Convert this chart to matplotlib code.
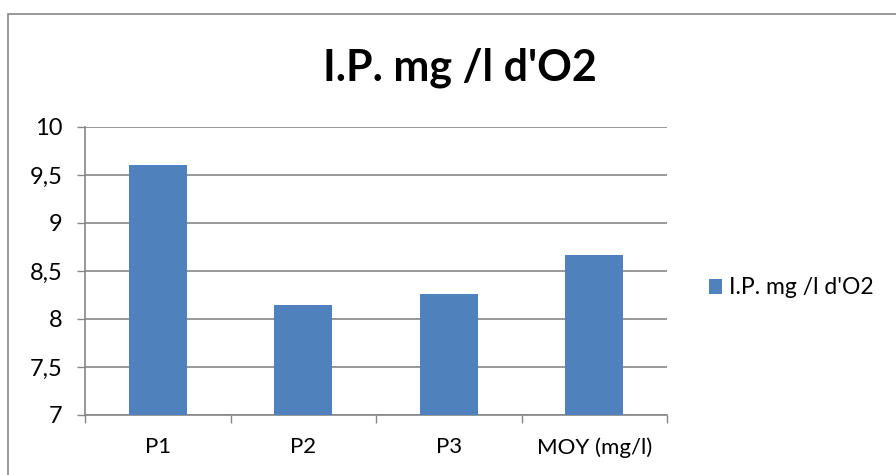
import matplotlib.pyplot as plt
from matplotlib.patches import Rectangle
import numpy as np

categories = ['P1', 'P2', 'P3', 'MOY (mg/l)']
values = [9.60, 8.15, 8.26, 8.67]
yticks = [7, 7.5, 8, 8.5, 9, 9.5, 10]
ytick_labels = ['7', '7,5', '8', '8,5', '9', '9,5', '10']
series_name = "I.P. mg /l d'O2"

plt.rcParams['font.family'] = ['Lato', 'DejaVu Sans']
grey = '#868686'
blue = '#4F81BD'

fig = plt.figure(figsize=(8.96, 4.75), dpi=100)
# outer chart border
fig.patches.append(Rectangle((8 / 896, -0.05), 1.2, 1 - 14 / 475 + 0.05,
                             transform=fig.transFigure, fill=False,
                             edgecolor=grey, linewidth=1.2))

ax = fig.add_axes([85 / 896, 1 - 415 / 475, 582 / 896, 288 / 475])
x = np.arange(len(categories))
ax.bar(x, values, width=0.4, color=blue, label=series_name, zorder=3)
ax.set_ylim(7, 10)
ax.set_xlim(-0.5, len(categories) - 0.5)

ax.set_yticks(yticks)
ax.set_yticklabels(ytick_labels, fontsize=17)
ax.set_xticks(x)
ax.set_xticklabels(categories, fontsize=16)
ax.set_xticks(np.arange(len(categories) + 1) - 0.5, minor=True)
ax.tick_params(axis='x', which='major', length=0, pad=16)
ax.tick_params(axis='x', which='minor', length=6, color=grey, width=1)
ax.tick_params(axis='y', length=6, color=grey, width=1, pad=10)

ax.yaxis.grid(True, color=grey, linewidth=1.2, zorder=0)
ax.set_axisbelow(True)
for s in ['top', 'right']:
    ax.spines[s].set_visible(False)
for s in ['left', 'bottom']:
    ax.spines[s].set_color(grey)
    ax.spines[s].set_linewidth(1.2)

fig.text(460 / 896, 1 - 68 / 475, series_name, fontsize=31, fontweight='bold',
         ha='center', va='center')

fig.legend(loc='center left', bbox_to_anchor=(688 / 896, 1 - 288 / 475),
           frameon=False, fontsize=16.5, handlelength=0.6, handleheight=0.6,
           handletextpad=0.3)

fig.savefig('out.png', dpi=100)
